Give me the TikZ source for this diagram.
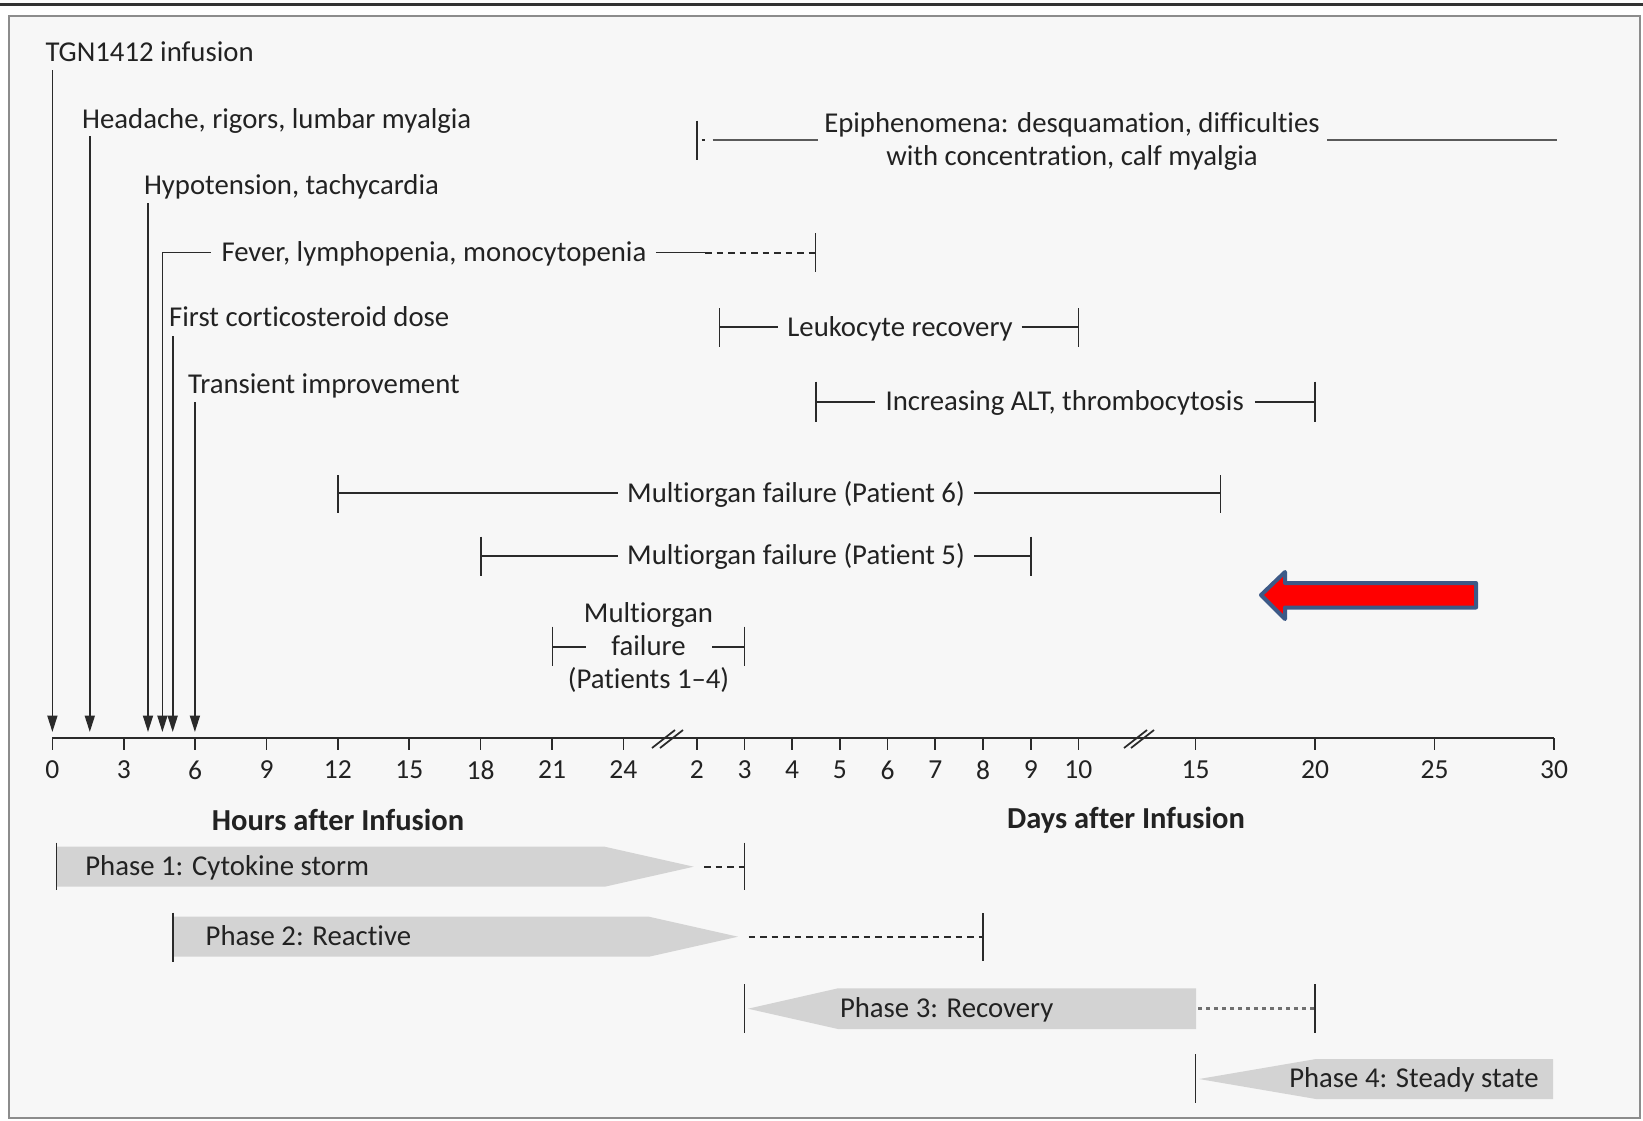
\documentclass[tikz,border=0pt]{standalone}
\usepackage{fontspec}
\setmainfont{Carlito}[Ligatures=NoCommon]
\usetikzlibrary{arrows.meta}
\definecolor{bgc}{HTML}{F7F7F7}
\definecolor{framec}{HTML}{8C8C8C}
\definecolor{bandc}{HTML}{D3D3D3}
\definecolor{ink}{HTML}{222222}
\definecolor{linec}{HTML}{2A2A2A}
\definecolor{dotc}{HTML}{707070}
\definecolor{arrowred}{HTML}{FF0000}
\definecolor{arrowblue}{HTML}{3D5A87}
\begin{document}
\begin{tikzpicture}[x=0.4pt,y=-0.4pt,
  txt/.style={font=\fontsize{11.5}{13.1}\selectfont, text=ink, inner sep=0pt, text height=9.1pt, text depth=2.1pt},
  gtxt/.style={txt, inner xsep=3.4pt},
  mtxt/.style={font=\fontsize{11.5}{13.1}\selectfont, text=ink, inner sep=0pt, align=center},
  axtitle/.style={font=\fontsize{12.2}{14}\selectfont\bfseries, text=ink, inner sep=0pt},
  ticklbl/.style={font=\fontsize{11}{12}\selectfont, text=ink, inner sep=0pt},
  ln/.style={draw=linec, line width=0.7pt},
  evarrow/.style={ln, -{Triangle[length=6.6pt,width=4pt]}},
  dsh/.style={ln, line width=0.8pt, dash pattern=on 2.6pt off 2pt},
  dots/.style={draw=dotc, line width=1.3pt, dash pattern=on 1.6pt off 1.6pt},
  band/.style={fill=bandc, draw=none},
]
\useasboundingbox (0,0) rectangle (1643,1120);
\fill[white] (0,0) rectangle (1643,1120);
\draw[line width=1.2pt, draw=black!80] (0,4) -- (1643,4);
\draw[fill=bgc, draw=framec, line width=1pt] (9,16) rectangle (1640,1118);

% ---------- axis ----------
\coordinate (ax0) at (52.4,738);
\coordinate (ax1) at (1554,738);
\draw[ln, line width=0.8pt] (ax0) -- (ax1);
\foreach \x/\l in {52.4/0,123.8/3,195.1/6,266.5/9,337.9/12,409.3/15,480.6/18,552.0/21,623.4/24,
                   696.8/2,744.5/3,792.2/4,839.9/5,887.6/6,935.3/7,983.0/8,1030.7/9,1078.4/10,
                   1195.5/15,1315/20,1434.5/25,1554/30}{
  \draw[ln] (\x,738) -- (\x,750);
  \node[ticklbl] (t\x) at (\x,770) {\l};
}
% breaks
\draw[ln] (652,748) -- (675,730);
\draw[ln] (660,748) -- (683,730);
\draw[ln] (1124,748) -- (1147,730);
\draw[ln] (1131,748) -- (1154,730);

\node[axtitle] (hrs) at (338,820) {Hours after Infusion};
\node[axtitle] (dys) at (1126,820) {Days after Infusion};

% ---------- event arrows ----------
\node[txt, anchor=west] (tgn) at (45,53) {TGN1412 infusion};
\coordinate (tgnT) at (52.4,70);  \coordinate (tgnB) at (52.4,732);
\draw[evarrow] (tgnT) -- (tgnB);

\node[txt, anchor=west] (head) at (81.7,120) {Headache, rigors, lumbar myalgia};
\coordinate (headT) at (89.8,136); \coordinate (headB) at (89.8,732);
\draw[evarrow] (headT) -- (headB);

\node[txt, anchor=west] (hypo) at (143.5,186) {Hypotension, tachycardia};
\coordinate (hypoT) at (148,203); \coordinate (hypoB) at (148,732);
\draw[evarrow] (hypoT) -- (hypoB);

\node[txt, anchor=west] (fev) at (221,252.5) {Fever, lymphopenia, monocytopenia};
\coordinate (fevC) at (162.4,252.5); \coordinate (fevH) at (210.7,252.5); \coordinate (fevB) at (162.4,732);
\draw[evarrow] (fevH) -- (fevC) -- (fevB);
\coordinate (fevS) at (705,252.5); \coordinate (fevE) at (815.5,252.5);
\draw[ln] (fev.east) ++(9,0) coordinate (fevA) (fevA) -- (fevS);
\draw[dsh] (fevS) -- (fevE);
\draw[ln] (815.5,233) -- (815.5,272);

\node[txt, anchor=west] (cort) at (168.7,318) {First corticosteroid dose};
\coordinate (cortT) at (172.7,336); \coordinate (cortB) at (172.7,732);
\draw[evarrow] (cortT) -- (cortB);

\node[txt, anchor=west] (trans) at (187.6,385) {Transient improvement};
\coordinate (transT) at (194.9,402); \coordinate (transB) at (194.9,732);
\draw[evarrow] (transT) -- (transB);

% ---------- epiphenomena ----------
\node[mtxt] (epi) at (1072,141.5) {Epiphenomena: desquamation, difficulties\\with concentration, calf myalgia};
\coordinate (epiL) at (696.8,140);
\draw[ln] (696.8,120.5) -- (696.8,160);
\draw[ln] (701.5,140) -- (704.5,140);
\coordinate (epiA) at (712.5,140); \coordinate (epiB) at (818,140);
\draw[ln, draw=dotc!80!black, line width=1pt] (epiA) -- (epiB);
\coordinate (epiC) at (1327,140); \coordinate (epiD) at (1557,140);
\draw[ln, draw=dotc!80!black, line width=1pt] (epiC) -- (epiD);

% ---------- range bars ----------
% Leukocyte recovery
\node[gtxt] (leuk) at (900,327.3) {Leukocyte recovery};
\coordinate (leukL) at (719.6,327.3); \coordinate (leukR) at (1078.4,327.3);
\draw[ln] (719.6,308) -- (719.6,346.7);
\draw[ln] (1078.4,308) -- (1078.4,346.7);
\draw[ln] (leukL) -- (leuk.west);
\draw[ln] (leuk.east) -- (leukR);

% Increasing ALT
\node[gtxt, inner xsep=4.2pt] (alt) at (1064.7,401.7) {Increasing ALT, thrombocytosis};
\coordinate (altL) at (816,401.7); \coordinate (altR) at (1315,401.7);
\draw[ln] (816,381.7) -- (816,421.7);
\draw[ln] (1315,381.7) -- (1315,421.7);
\draw[ln] (altL) -- (alt.west);
\draw[ln] (alt.east) -- (altR);

% Patient 6
\node[gtxt] (p6) at (796,493.3) {Multiorgan failure (Patient 6)};
\coordinate (p6L) at (338,493.3); \coordinate (p6R) at (1220.5,493.3);
\draw[ln] (338,475) -- (338,513);
\draw[ln] (1220.5,475) -- (1220.5,513);
\draw[ln] (p6L) -- (p6.west);
\draw[ln] (p6.east) -- (p6R);

% Patient 5
\node[gtxt] (p5) at (796,556) {Multiorgan failure (Patient 5)};
\coordinate (p5L) at (481,556); \coordinate (p5R) at (1031,556);
\draw[ln] (481,536.7) -- (481,576);
\draw[ln] (1031,536.7) -- (1031,576);
\draw[ln] (p5L) -- (p5.west);
\draw[ln] (p5.east) -- (p5R);

% Patients 1-4
\node[mtxt] (p14) at (648.5,647.5) {Multiorgan\\failure\\(Patients 1–4)};
\coordinate (p14L) at (552.5,646.7); \coordinate (p14La) at (585.8,646.7);
\coordinate (p14R) at (744.5,646.7); \coordinate (p14Ra) at (712.3,646.7);
\draw[ln] (552.5,626.7) -- (552.5,666);
\draw[ln] (744.5,626.7) -- (744.5,666);
\draw[ln] (p14L) -- (p14La);
\draw[ln] (p14Ra) -- (p14R);

% ---------- red arrow ----------
\draw[fill=arrowred, draw=arrowblue, line width=1.6pt, line join=round]
  (1261,595) -- (1285,572) -- (1285,583) -- (1476,583) -- (1476,607.5) -- (1285,607.5) -- (1285,619) -- cycle;

% ---------- phases ----------
% Phase 1
\fill[band] (56.5,846.7) -- (604.7,846.7) -- (693.7,866.7) -- (604.7,886.7) -- (56.5,886.7) -- cycle;
\draw[ln] (56.5,842.7) -- (56.5,890);
\node[txt, anchor=west] (ph1) at (84.8,866.7) {Phase 1: Cytokine storm};
\coordinate (ph1a) at (704,866.7); \coordinate (ph1b) at (744.5,866.7);
\draw[dsh] (ph1a) -- (ph1b);
\draw[ln] (744.5,842.7) -- (744.5,890);

% Phase 2
\fill[band] (172.8,916.7) -- (649,916.7) -- (738,936.7) -- (649,956.7) -- (172.8,956.7) -- cycle;
\draw[ln] (172.8,912.7) -- (172.8,961.7);
\node[txt, anchor=west] (ph2) at (205.2,936.7) {Phase 2: Reactive};
\coordinate (ph2a) at (748.7,936.7); \coordinate (ph2b) at (983,936.7);
\draw[dsh] (ph2a) -- (ph2b);
\draw[ln] (983,913) -- (983,960.7);

% Phase 3
\fill[band] (748,1008.7) -- (838,988.3) -- (1196,988.3) -- (1196,1029) -- (838,1029) -- cycle;
\draw[ln] (744.5,984) -- (744.5,1033.3);
\node[txt, anchor=west] (ph3) at (839.5,1008.7) {Phase 3: Recovery};
\coordinate (ph3a) at (1198,1008.7); \coordinate (ph3b) at (1315,1008.7);
\draw[dots] (ph3a) -- (ph3b);
\draw[ln] (1315,984) -- (1315,1033);

% Phase 4
\fill[band] (1199,1079) -- (1316,1059) -- (1553,1059) -- (1553,1099) -- (1316,1099) -- cycle;
\draw[ln] (1195.5,1054) -- (1195.5,1102.7);
\node[txt, anchor=east] (ph4) at (1539,1079) {Phase 4: Steady state};
\end{tikzpicture}
\end{document}
